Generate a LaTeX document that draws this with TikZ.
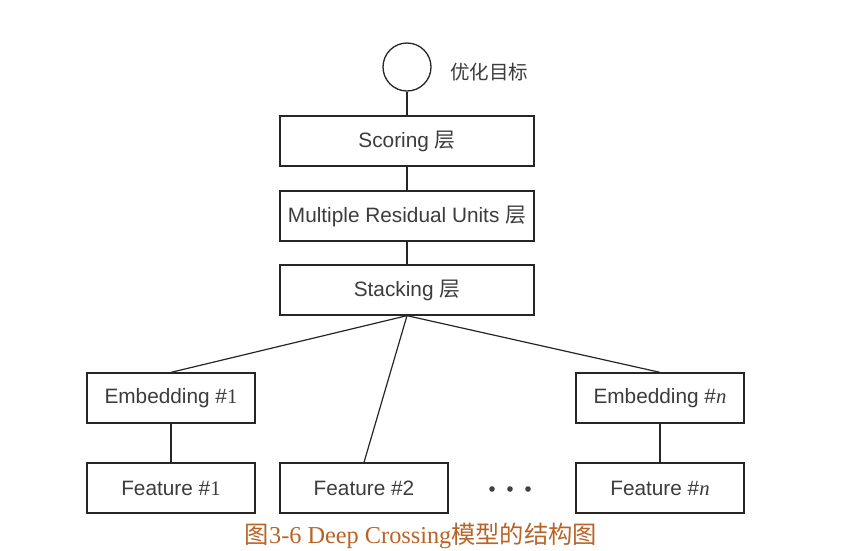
\documentclass[tikz,border=0pt]{standalone}
\usepackage{fontspec}
\setmainfont{Liberation Serif}
\setsansfont{Liberation Sans}
\newfontfamily\cjk{Noto Sans CJK SC}
\definecolor{txt}{RGB}{60,60,60}
\definecolor{cap}{RGB}{184,100,40}
\begin{document}
\begin{tikzpicture}[x=1pt,y=1pt,
  box/.style={draw=black!85,line width=1.3pt,minimum height=50pt,inner sep=0pt,
    font=\sffamily\fontsize{20.8}{20.8}\selectfont,text=txt},
  wide/.style={box,minimum width=254pt},
  narrow/.style={box,minimum width=168pt},
  conn/.style={draw=black!85,line width=1.2pt}]
\useasboundingbox (0,0) rectangle (849,-550);
\fill[white] (0,0) rectangle (849,-550);
\node[circle,draw=black!85,line width=1.3pt,minimum size=48pt,inner sep=0pt] (obj) at (407,-67) {};
\node[anchor=west,text=txt,font=\cjk\fontsize{19.5}{19.5}\selectfont,inner sep=0pt] (objl) at (450,-72) {优化目标};
\node[wide] (score) at (407,-141) {Scoring {\cjk 层}};
\node[wide] (mru) at (407,-216) {Multiple Residual Units {\cjk 层}};
\node[wide] (stack) at (407,-290) {Stacking {\cjk 层}};
\node[narrow] (emb1) at (171,-398) {Embedding \#{\rmfamily 1}};
\node[narrow] (embn) at (660,-398) {Embedding \#{\rmfamily\itshape n}};
\node[narrow] (f1) at (171,-488) {Feature \#{\rmfamily 1}};
\node[narrow] (f2) at (364,-488) {Feature \#2};
\node[narrow] (fn) at (660,-488) {Feature \#{\rmfamily\itshape n}};
\foreach \i/\x in {1/492,2/510,3/528}
  \fill[black!75] (\x,-489) circle (2.8pt) coordinate (d\i);
\draw[conn] (obj.south) -- (score.north);
\draw[conn] (score.south) -- (mru.north);
\draw[conn] (mru.south) -- (stack.north);
\draw[conn] (stack.south) -- (emb1.north);
\draw[conn] (stack.south) -- (f2.north);
\draw[conn] (stack.south) -- (embn.north);
\draw[conn] (emb1.south) -- (f1.north);
\draw[conn] (embn.south) -- (fn.north);
\node[anchor=base,text=cap,font=\fontsize{24.3}{24.3}\selectfont,inner sep=0pt] (caption) at (421,-543)
  {{\cjk 图}3-6 Deep Crossing{\cjk 模型的结构图}};
\end{tikzpicture}
\end{document}
